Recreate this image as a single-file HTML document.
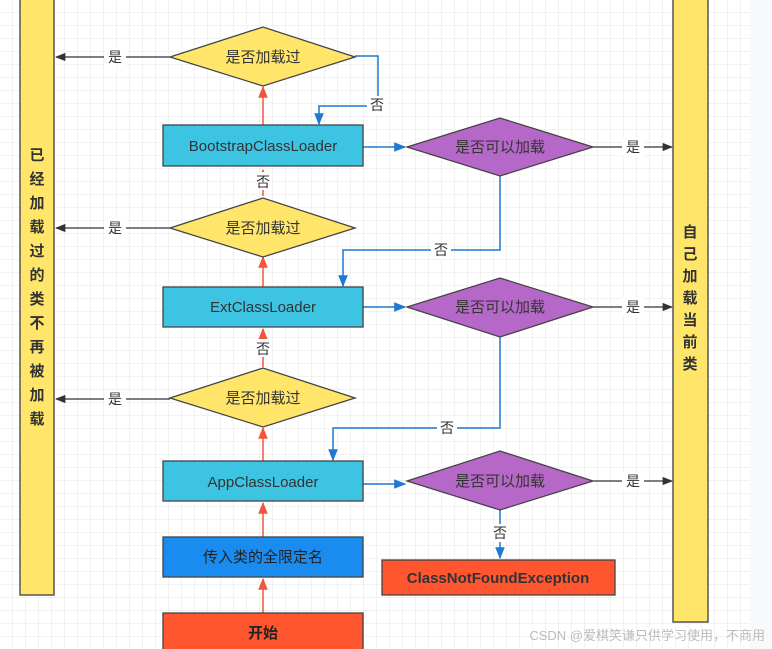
<!DOCTYPE html>
<html><head><meta charset="utf-8"><style>
html,body{margin:0;padding:0;background:#fff;}
svg{display:block}
text{font-family:"Liberation Sans","Noto Sans CJK SC",sans-serif;}
</style></head><body>
<svg width="772" height="649" viewBox="0 0 772 649" xmlns="http://www.w3.org/2000/svg">
<defs>
<pattern id="g" width="13" height="13" patternUnits="userSpaceOnUse">
<path d="M13 0V13H0" fill="none" stroke="#e4e4e4" stroke-width="1"/>
</pattern>
<marker id="ab" viewBox="0 0 10 10" refX="9" refY="5" markerWidth="8" markerHeight="8" orient="auto"><path d="M0 1L10 5L0 9z" fill="#1f78d1"/></marker>
<marker id="ar" viewBox="0 0 10 10" refX="9" refY="5" markerWidth="8" markerHeight="8" orient="auto"><path d="M0 1L10 5L0 9z" fill="#f2543d"/></marker>
<marker id="ak" viewBox="0 0 10 10" refX="9" refY="5" markerWidth="8" markerHeight="8" orient="auto"><path d="M0 1L10 5L0 9z" fill="#333"/></marker>
</defs>
<rect width="772" height="649" fill="#fff"/>
<rect width="750" height="649" fill="url(#g)"/>
<rect x="750" width="22" height="649" fill="#f7f9fa"/>

<!-- side bars -->
<rect x="20" y="-2" width="34" height="597" fill="#ffe66b" stroke="#555" stroke-width="1.5"/>
<text x="37" y="160" font-size="15" fill="#333" text-anchor="middle" font-weight="bold">
<tspan x="37" dy="0">已</tspan><tspan x="37" dy="24">经</tspan><tspan x="37" dy="24">加</tspan><tspan x="37" dy="24">载</tspan><tspan x="37" dy="24">过</tspan><tspan x="37" dy="24">的</tspan><tspan x="37" dy="24">类</tspan><tspan x="37" dy="24">不</tspan><tspan x="37" dy="24">再</tspan><tspan x="37" dy="24">被</tspan><tspan x="37" dy="24">加</tspan><tspan x="37" dy="24">载</tspan></text>
<rect x="673" y="-2" width="35" height="624" fill="#ffe66b" stroke="#555" stroke-width="1.5"/>
<text x="690" y="237" font-size="15" fill="#333" text-anchor="middle" font-weight="bold">
<tspan x="690" dy="0">自</tspan><tspan x="690" dy="22">己</tspan><tspan x="690" dy="22">加</tspan><tspan x="690" dy="22">载</tspan><tspan x="690" dy="22">当</tspan><tspan x="690" dy="22">前</tspan><tspan x="690" dy="22">类</tspan></text>

<!-- red vertical arrows -->
<g stroke="#f2543d" stroke-width="1.5" marker-end="url(#ar)">
<line x1="263" y1="125" x2="263" y2="87"/>
<line x1="263" y1="196" x2="263" y2="170"/>
<line x1="263" y1="287" x2="263" y2="257"/>
<line x1="263" y1="367" x2="263" y2="329"/>
<line x1="263" y1="461" x2="263" y2="428"/>
<line x1="263" y1="537" x2="263" y2="503"/>
<line x1="263" y1="613" x2="263" y2="579"/>
</g>
<rect x="254" y="172" width="18" height="18" fill="#fff"/>
<text x="263" y="187" font-size="14" fill="#333" text-anchor="middle">否</text>
<rect x="254" y="339" width="18" height="18" fill="#fff"/>
<text x="263" y="354" font-size="14" fill="#333" text-anchor="middle">否</text>

<!-- left 是 arrows -->
<g stroke="#333" stroke-width="1.3" marker-end="url(#ak)" fill="none">
<line x1="170" y1="57" x2="56" y2="57"/>
<line x1="170" y1="228" x2="56" y2="228"/>
<line x1="170" y1="399" x2="56" y2="399"/>
<line x1="593" y1="147" x2="672" y2="147"/>
<line x1="593" y1="307" x2="672" y2="307"/>
<line x1="593" y1="481" x2="672" y2="481"/>
</g>
<g font-size="14" fill="#333" text-anchor="middle">
<rect x="104" y="48" width="22" height="18" fill="#fff"/><text x="115" y="62">是</text>
<rect x="104" y="219" width="22" height="18" fill="#fff"/><text x="115" y="233">是</text>
<rect x="104" y="390" width="22" height="18" fill="#fff"/><text x="115" y="404">是</text>
<rect x="622" y="138" width="22" height="18" fill="#fff"/><text x="633" y="152">是</text>
<rect x="622" y="298" width="22" height="18" fill="#fff"/><text x="633" y="312">是</text>
<rect x="622" y="472" width="22" height="18" fill="#fff"/><text x="633" y="486">是</text>
</g>

<!-- blue connectors -->
<g stroke="#1f78d1" stroke-width="1.5" fill="none" marker-end="url(#ab)">
<polyline points="355,56 378,56 378,106 319,106 319,124"/>
<line x1="363" y1="147" x2="405" y2="147"/>
<polyline points="500,175 500,250 343,250 343,286"/>
<line x1="363" y1="307" x2="405" y2="307"/>
<polyline points="500,337 500,428 333,428 333,460"/>
<line x1="363" y1="484" x2="405" y2="484"/>
<line x1="500" y1="510" x2="500" y2="558"/>
</g>
<g font-size="14" fill="#333" text-anchor="middle">
<rect x="367" y="96" width="20" height="18" fill="#fff"/><text x="377" y="110">否</text>
<rect x="431" y="241" width="20" height="18" fill="#fff"/><text x="441" y="255">否</text>
<rect x="437" y="419" width="20" height="18" fill="#fff"/><text x="447" y="433">否</text>
<rect x="490" y="524" width="20" height="18" fill="#fff"/><text x="500" y="538">否</text>
</g>

<!-- yellow diamonds -->
<g fill="#ffe66b" stroke="#444" stroke-width="1.3">
<polygon points="170,57 263,27 355,57 263,86"/>
<polygon points="170,228 263,198 355,228 263,257"/>
<polygon points="170,398 263,368 355,398 263,427"/>
</g>
<g font-size="15" fill="#333" text-anchor="middle">
<text x="263" y="62">是否加载过</text>
<text x="263" y="233">是否加载过</text>
<text x="263" y="403">是否加载过</text>
</g>

<!-- purple diamonds -->
<g fill="#b668c8" stroke="#444" stroke-width="1.3">
<polygon points="407,147 500,118 593,147 500,176"/>
<polygon points="407,307 500,278 593,307 500,337"/>
<polygon points="407,481 500,451 593,481 500,510"/>
</g>
<g font-size="15" fill="#333" text-anchor="middle">
<text x="500" y="152">是否可以加载</text>
<text x="500" y="312">是否可以加载</text>
<text x="500" y="486">是否可以加载</text>
</g>

<!-- cyan boxes -->
<g fill="#3ec4e3" stroke="#444" stroke-width="1.3">
<rect x="163" y="125" width="200" height="41"/>
<rect x="163" y="287" width="200" height="40"/>
<rect x="163" y="461" width="200" height="40"/>
</g>
<g font-size="15" fill="#333" text-anchor="middle">
<text x="263" y="151">BootstrapClassLoader</text>
<text x="263" y="312">ExtClassLoader</text>
<text x="263" y="487">AppClassLoader</text>
</g>

<rect x="163" y="537" width="200" height="40" fill="#1a8cf0" stroke="#444" stroke-width="1.3"/>
<text x="263" y="562" font-size="15" fill="#222" text-anchor="middle">传入类的全限定名</text>
<rect x="163" y="613" width="200" height="40" fill="#ff5630" stroke="#444" stroke-width="1.3"/>
<text x="263" y="638" font-size="15" fill="#222" text-anchor="middle" font-weight="bold">开始</text>
<rect x="382" y="560" width="233" height="35" fill="#ff5630" stroke="#444" stroke-width="1.3"/>
<text x="498" y="583" font-size="15" fill="#333" text-anchor="middle" font-weight="bold">ClassNotFoundException</text>

<text x="765" y="640" font-size="13" fill="#bbb" text-anchor="end">CSDN @爱棋笑谦只供学习使用，不商用</text>
</svg>
</body></html>
